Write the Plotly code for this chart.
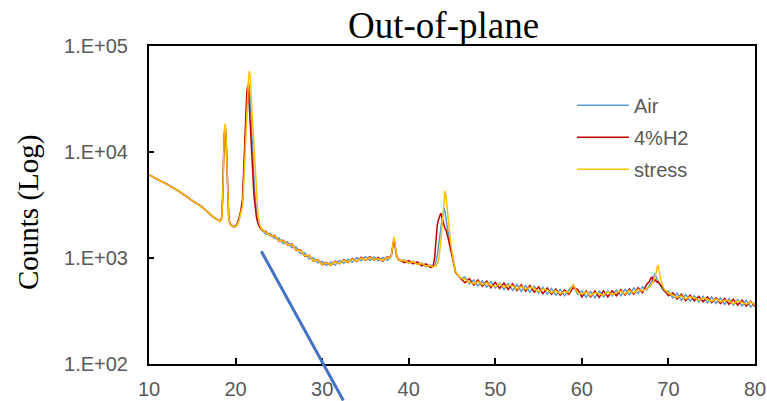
import plotly.graph_objects as go

# 2-theta sampling (degrees); finer steps across the diffraction peaks
two_theta = [
    10.0, 10.5, 11.0, 11.5, 12.0, 12.5, 13.0, 13.5, 14.0, 14.5, 15.0, 15.5, 16.0, 16.5, 17.0, 17.5, 18.0,
    18.1, 18.2, 18.3, 18.4, 18.5, 18.6, 18.7, 18.8, 18.9, 19.0, 19.1, 19.2, 19.3, 19.4, 19.6, 19.8, 20.0, 20.2, 20.4, 20.6,
    20.8, 20.9, 21.0, 21.1, 21.2, 21.3, 21.4, 21.5, 21.6, 21.7, 21.8, 21.9, 22.0, 22.1, 22.2, 22.3, 22.4, 22.5, 22.6, 22.8, 23.0,
    23.5, 24.0, 24.5, 25.0, 25.5, 26.0, 26.5, 27.0, 27.5, 28.0, 28.5, 29.0, 29.5, 30.0, 30.5, 31.0, 31.5, 32.0, 32.5, 33.0,
    33.5, 34.0, 34.5, 35.0, 35.5, 36.0, 36.5, 37.0, 37.5,
    37.8, 38.0, 38.1, 38.2, 38.3, 38.4, 38.5, 38.6, 38.8, 39.0,
    39.5, 40.0, 40.5, 41.0, 41.5, 42.0, 42.5,
    42.8, 43.0, 43.1, 43.2, 43.3, 43.4, 43.5, 43.6, 43.7, 43.8, 43.9, 44.0, 44.1, 44.2, 44.3, 44.4, 44.5, 44.6, 44.7, 44.8,
    44.9, 45.0, 45.1, 45.2, 45.3, 45.4, 45.5, 45.75, 46.0,
    46.5, 47.0, 47.5, 48.0, 48.5, 49.0, 49.5, 50.0, 50.5, 51.0, 51.5, 52.0, 52.5, 53.0, 53.5, 54.0, 54.5, 55.0, 55.5, 56.0,
    56.5, 57.0, 57.5, 58.0, 58.5, 59.0, 59.5, 60.0, 60.5, 61.0, 61.5, 62.0, 62.5, 63.0, 63.5, 64.0, 64.5, 65.0, 65.5, 66.0,
    66.5, 67.0, 67.5,
    67.8, 68.0, 68.1, 68.2, 68.3, 68.4, 68.5, 68.6, 68.7, 68.8, 68.9, 69.0, 69.1, 69.2, 69.4, 69.6,
    70.0, 70.5, 71.0, 71.5, 72.0, 72.5, 73.0, 73.5, 74.0, 74.5, 75.0, 75.5, 76.0, 76.5, 77.0, 77.5, 78.0, 78.5, 79.0, 79.5, 80.0,
]

counts_air = [
    6080, 5830, 5470, 5280, 4960, 4790, 4470, 4280, 3970, 3780, 3470, 3300, 3050, 2870, 2600, 2440, 2260,
    2240, 2250, 2280, 2450, 3800, 9000, 15500, 17500, 13500, 7200, 3500, 2500, 2180, 2070, 1990, 1950, 1970, 2080, 2300, 2650,
    3300, 4600, 7000, 12000, 21000, 32000, 41000, 45000, 40000, 29000, 19000, 12500, 8500, 6000, 4400, 3400, 2800, 2400, 2200, 1980, 1860,
    1680, 1710, 1530, 1540, 1370, 1420, 1250, 1270, 1100, 1120, 980, 1010, 900, 930, 850, 915, 860, 950, 890, 975,
    915, 1010, 940, 1030, 950, 1020, 940, 1010, 950,
    990, 1050, 1180, 1420, 1530, 1380, 1170, 1050, 965, 940,
    960, 890, 935, 865, 900, 825, 860,
    835, 850, 890, 950, 1060, 1250, 1500, 1750, 1950, 2150, 2450, 2750, 2950, 2700, 2300, 2050, 1850, 1650, 1500, 1350,
    1200, 1060, 950, 860, 790, 750, 715, 670, 640,
    660, 570, 620, 545, 610, 530, 600, 520, 580, 505, 575, 495, 565, 485, 550, 475, 540, 465, 530, 455,
    515, 445, 505, 440, 500, 560, 455, 490, 425, 485, 420, 488, 430, 492, 438, 500, 442, 508, 450, 520,
    462, 535, 500,
    545, 580, 610, 640, 670, 700, 690, 650, 620, 600, 580, 560, 540, 520, 495, 478,
    490, 420, 465, 398, 452, 392, 440, 385, 435, 378, 428, 372, 420, 365, 412, 358, 405, 352, 398, 345, 380,
]

counts_h2 = [
    6120, 5780, 5520, 5230, 5030, 4720, 4520, 4230, 4030, 3720, 3520, 3260, 3100, 2830, 2640, 2400, 2290,
    2260, 2230, 2270, 2420, 3500, 8200, 15000, 17200, 14200, 7800, 3700, 2550, 2210, 2100, 2010, 1980, 2000, 2120, 2380, 2800,
    3600, 5500, 9000, 17000, 28000, 37000, 41000, 36000, 26000, 17000, 11000, 7500, 5500, 4200, 3400, 2800, 2450, 2250, 2100, 1950, 1850,
    1770, 1620, 1630, 1450, 1470, 1330, 1350, 1180, 1190, 1040, 1060, 935, 965, 865, 910, 855, 935, 880, 965, 905,
    990, 925, 1015, 950, 1030, 955, 1010, 930, 1020,
    1010, 1070, 1220, 1460, 1520, 1360, 1150, 1040, 975, 955,
    905, 945, 880, 920, 845, 880, 815,
    830, 1000, 1300, 1700, 2050, 2250, 2400, 2550, 2650, 2500, 2300, 2100, 1950, 1880, 1850, 1750, 1600, 1480, 1360, 1230,
    1100, 990, 900, 830, 780, 740, 715, 670, 640,
    585, 640, 555, 620, 540, 605, 525, 590, 515, 580, 505, 570, 495, 560, 485, 550, 475, 535, 460, 520,
    455, 510, 445, 500, 455, 525, 505, 430, 490, 428, 488, 425, 490, 430, 492, 440, 502, 448, 510, 456,
    525, 470, 565,
    600, 650, 660, 630, 600, 610, 620, 600, 590, 600, 585, 570, 555, 540, 510, 490,
    440, 470, 410, 455, 396, 445, 394, 435, 386, 430, 380, 420, 372, 415, 366, 408, 360, 400, 352, 392, 348,
]

counts_stress = [
    6100, 5810, 5490, 5260, 4990, 4760, 4490, 4260, 4000, 3760, 3490, 3290, 3070, 2850, 2610, 2420, 2270,
    2250, 2240, 2260, 2380, 3400, 8000, 15800, 18400, 14500, 7600, 3600, 2480, 2190, 2080, 2000, 1970, 1980, 2060, 2260, 2600,
    3100, 4200, 6200, 10000, 16000, 26000, 38000, 50000, 58000, 52000, 33000, 24000, 17000, 12000, 8500, 5500, 3800, 3000, 2500, 2050, 1880,
    1740, 1640, 1610, 1460, 1450, 1340, 1330, 1190, 1170, 1050, 1050, 945, 955, 870, 900, 860, 920, 885, 950, 915,
    975, 935, 1000, 960, 1010, 965, 990, 945, 1000,
    1000, 1060, 1210, 1480, 1580, 1420, 1190, 1070, 960, 945,
    950, 900, 925, 870, 890, 835, 850,
    825, 840, 835, 855, 880, 920, 1000, 1150, 1400, 1750, 2150, 2700, 3500, 4300, 3900, 3100, 2500, 2050, 1750, 1500,
    1300, 1130, 990, 880, 800, 750, 720, 675, 645,
    630, 590, 572, 600, 560, 585, 548, 540, 570, 528, 552, 548, 510, 540, 505, 530, 515, 480, 510, 500,
    470, 495, 458, 485, 470, 565, 470, 455, 478, 440, 470, 460, 445, 480, 450, 472, 490, 458, 495, 470,
    505, 490, 520,
    530, 555, 570, 590, 610, 640, 680, 740, 820, 860, 760, 690, 630, 590, 530, 500,
    470, 450, 425, 440, 410, 430, 422, 398, 420, 408, 392, 410, 385, 400, 395, 372, 392, 380, 366, 385, 362,
]

series_names = ["Air", "4%H2", "stress"]
series_colors = ["#5B9BD5", "#C00000", "#FFC000"]

x_tick_vals = [10, 20, 30, 40, 50, 60, 70, 80]
y_tick_vals = [100, 1000, 10000, 100000]
y_tick_text = ["1.E+02", "1.E+03", "1.E+04", "1.E+05"]

chart_title = "Out-of-plane"
y_title = "Counts (Log)"

label_font = dict(family="Liberation Sans", size=20, color="#595959")

fig = go.Figure()
for name, color, counts in zip(series_names, series_colors,
                               [counts_air, counts_h2, counts_stress]):
    fig.add_trace(go.Scatter(
        x=two_theta, y=counts, mode="lines", name=name,
        legendgroup=name,
        line=dict(color=color, width=1.5),
    ))

axis_common = dict(
    showline=True, linecolor="black", linewidth=2, mirror=True,
    showgrid=False, zeroline=False, automargin=False,
    ticks="inside", tickcolor="black", tickwidth=2,
    tickfont=label_font,
)

fig.update_xaxes(range=[10, 80], tickvals=x_tick_vals, ticklen=6,
                 ticklabelstandoff=6, **axis_common)
fig.update_yaxes(type="log", range=[2, 5], tickvals=y_tick_vals,
                 ticktext=y_tick_text, ticklen=5, ticklabelstandoff=15,
                 **axis_common)

fig.update_layout(
    width=767, height=401,
    margin=dict(l=149, r=12, t=46, b=37, autoexpand=False),
    paper_bgcolor="white", plot_bgcolor="white",
    legend=dict(
        x=0.698, y=0.875, xanchor="left", yanchor="top",
        font=label_font, bgcolor="rgba(0,0,0,0)",
        tracegroupgap=3, itemwidth=52,
    ),
    annotations=[
        dict(text=chart_title, xref="paper", yref="paper",
             x=0.486, y=1.064, xanchor="center", yanchor="middle",
             showarrow=False,
             font=dict(family="Liberation Serif", size=37, color="black")),
        dict(text=y_title, xref="paper", yref="paper",
             x=-0.199, y=0.476, xanchor="center", yanchor="middle",
             textangle=-90, showarrow=False,
             font=dict(family="Liberation Serif", size=29, color="black")),
    ],
    shapes=[
        dict(type="line", xref="paper", yref="paper",
             x0=0.1853, y0=0.3547, x1=0.3207, y1=-0.1148,
             line=dict(color="#4472C4", width=3)),
    ],
)

fig.write_html("out.html")
